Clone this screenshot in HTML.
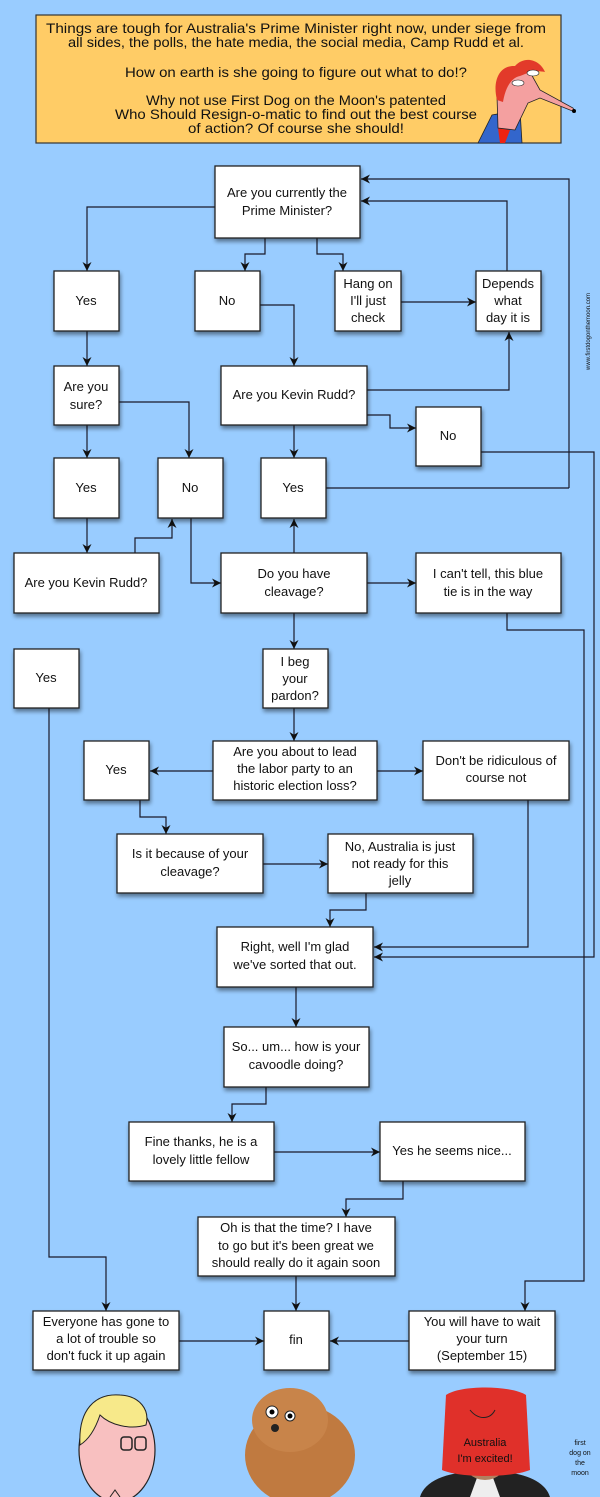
<!DOCTYPE html>
<html><head><meta charset="utf-8"><style>
html,body{margin:0;padding:0;background:#99ccff;}
svg{display:block;}
text{font-family:"Liberation Sans",sans-serif;fill:#111;}
</style></head><body>
<svg width="600" height="1497" viewBox="0 0 600 1497" xmlns="http://www.w3.org/2000/svg">
<defs>
<marker id="a" viewBox="0 0 10 10" refX="10" refY="5" markerWidth="9" markerHeight="9" orient="auto" markerUnits="userSpaceOnUse">
<path d="M0,0 L10,5 L0,10 L3,5 z" fill="#111"/></marker>
<filter id="sh" x="-10%" y="-10%" width="130%" height="140%"><feGaussianBlur in="SourceAlpha" stdDeviation="2"/><feOffset dx="1" dy="3"/><feComponentTransfer><feFuncA type="linear" slope="0.45"/></feComponentTransfer><feMerge><feMergeNode/><feMergeNode in="SourceGraphic"/></feMerge></filter>
</defs>
<rect width="600" height="1497" fill="#99ccff"/>
<!-- header -->
<rect x="36" y="15" width="525" height="128" fill="#ffcc66" stroke="#333" stroke-width="1.2"/>
<g font-size="14" text-anchor="middle">
<text x="296" y="33" textLength="500" lengthAdjust="spacingAndGlyphs">Things are tough for Australia's Prime Minister right now, under siege from</text>
<text x="296" y="47" textLength="456" lengthAdjust="spacingAndGlyphs">all sides, the polls, the hate media, the social media, Camp Rudd et al.</text>
<text x="296" y="77" textLength="342" lengthAdjust="spacingAndGlyphs">How on earth is she going to figure out what to do!?</text>
<text x="296" y="105" textLength="300" lengthAdjust="spacingAndGlyphs">Why not use First Dog on the Moon's patented</text>
<text x="296" y="119" textLength="362" lengthAdjust="spacingAndGlyphs">Who Should Resign-o-matic to find out the best course</text>
<text x="296" y="133" textLength="216" lengthAdjust="spacingAndGlyphs">of action? Of course she should!</text>
</g>
<!-- header character -->
<path d="M478,143 L492,115 L520,110 L522,143 z" fill="#3366cc" stroke="#222" stroke-width="0.8"/>
<path d="M500,143 L498,128 L510,130 L505,143 z" fill="#e21"/>
<path d="M498,128 L497,96 L505,75 L530,72 L540,90 L573,108 L575,112 L540,98 L528,103 L515,130 z" fill="#f4a0a0" stroke="#222" stroke-width="0.8"/>
<circle cx="574" cy="111" r="2" fill="#000"/>
<path d="M497,100 C492,80 500,65 515,66 C525,55 540,60 545,72 C535,70 530,72 520,76 C510,78 505,90 503,102 z" fill="#e23a2a"/>
<ellipse cx="518" cy="83" rx="6" ry="3" fill="#fff" stroke="#222" stroke-width="0.6"/>
<ellipse cx="533" cy="73" rx="6" ry="3" fill="#fff" stroke="#222" stroke-width="0.6"/>
<text x="590" y="370" font-size="6" transform="rotate(-90 590 370)">www.firstdogonthemoon.com</text>

<!-- connectors -->
<g stroke="#1a1a2a" stroke-width="1.2" fill="none" marker-end="url(#a)">
<polyline points="215,207 87,207 87,271"/>
<polyline points="265,238 265,254 245,254 245,271"/>
<polyline points="317,238 317,254 343,254 343,271"/>
<polyline points="401,302 476,302"/>
<polyline points="507,271 507,201 361,201"/>
<polyline points="569,488 569,179 361,179"/>
<polyline points="260,305 294,305 294,366"/>
<polyline points="367,390 509,390 509,332"/>
<polyline points="367,415 390,415 390,428 416,428"/>
<polyline points="294,425 294,458"/>
<polyline points="87,331 87,366"/>
<polyline points="119,402 189,402 189,458"/>
<polyline points="87,425 87,458"/>
<polyline points="326,488 569,488" marker-end="none"/>
<polyline points="481,452 594,452 594,957 374,957"/>
<polyline points="87,518 87,553"/>
<polyline points="135,553 135,538 172,538 172,519"/>
<polyline points="191,518 191,583 221,583"/>
<polyline points="294,553 294,519"/>
<polyline points="367,583 416,583"/>
<polyline points="294,613 294,649"/>
<polyline points="507,613 507,630 584,630 584,1281 525,1281 525,1311"/>
<polyline points="294,708 294,741"/>
<polyline points="213,771 150,771"/>
<polyline points="377,771 423,771"/>
<polyline points="140,800 140,817 166,817 166,834"/>
<polyline points="263,864 328,864"/>
<polyline points="528,800 528,947 374,947"/>
<polyline points="366,893 366,910 330,910 330,927"/>
<polyline points="49,708 49,1257 106,1257 106,1311"/>
<polyline points="296,987 296,1027"/>
<polyline points="266,1087 266,1104 232,1104 232,1122"/>
<polyline points="274,1152 380,1152"/>
<polyline points="403,1181 403,1199 346,1199 346,1217"/>
<polyline points="296,1276 296,1311"/>
<polyline points="179,1341 264,1341"/>
<polyline points="409,1341 330,1341"/>
</g>

<!-- boxes -->
<g fill="#fff" stroke="#222" stroke-width="1.3" filter="url(#sh)">
<rect x="215" y="166" width="145" height="72"/>
<rect x="54" y="271" width="65" height="60"/>
<rect x="195" y="271" width="65" height="60"/>
<rect x="335" y="271" width="66" height="60"/>
<rect x="476" y="271" width="65" height="60"/>
<rect x="54" y="366" width="65" height="59"/>
<rect x="221" y="366" width="146" height="59"/>
<rect x="416" y="407" width="65" height="59"/>
<rect x="54" y="458" width="65" height="60"/>
<rect x="158" y="458" width="65" height="60"/>
<rect x="261" y="458" width="65" height="60"/>
<rect x="14" y="553" width="145" height="60"/>
<rect x="221" y="553" width="146" height="60"/>
<rect x="416" y="553" width="145" height="60"/>
<rect x="14" y="649" width="65" height="59"/>
<rect x="263" y="649" width="65" height="59"/>
<rect x="213" y="741" width="164" height="59"/>
<rect x="84" y="741" width="65" height="59"/>
<rect x="423" y="741" width="146" height="59"/>
<rect x="117" y="834" width="146" height="59"/>
<rect x="328" y="834" width="145" height="59"/>
<rect x="217" y="927" width="156" height="60"/>
<rect x="224" y="1027" width="145" height="60"/>
<rect x="129" y="1122" width="145" height="59"/>
<rect x="380" y="1122" width="145" height="59"/>
<rect x="198" y="1217" width="197" height="59"/>
<rect x="33" y="1311" width="146" height="59"/>
<rect x="264" y="1311" width="65" height="59"/>
<rect x="409" y="1311" width="146" height="59"/>
</g>

<g font-size="13" text-anchor="middle">
<text x="287" y="197">Are you currently the</text><text x="287" y="215">Prime Minister?</text>
<text x="86" y="305">Yes</text>
<text x="227" y="305">No</text>
<text x="368" y="288">Hang on</text><text x="368" y="305">I'll just</text><text x="368" y="322">check</text>
<text x="508" y="288">Depends</text><text x="508" y="305">what</text><text x="508" y="322">day it is</text>
<text x="86" y="391">Are you</text><text x="86" y="409">sure?</text>
<text x="294" y="399">Are you Kevin Rudd?</text>
<text x="448" y="440">No</text>
<text x="86" y="492">Yes</text>
<text x="190" y="492">No</text>
<text x="293" y="492">Yes</text>
<text x="86" y="587">Are you Kevin Rudd?</text>
<text x="294" y="578">Do you have</text><text x="294" y="596">cleavage?</text>
<text x="488" y="578">I can't tell, this blue</text><text x="488" y="596">tie is in the way</text>
<text x="46" y="682">Yes</text>
<text x="295" y="666">I beg</text><text x="295" y="683">your</text><text x="295" y="700">pardon?</text>
<text x="295" y="756">Are you about to lead</text><text x="295" y="773">the labor party to an</text><text x="295" y="790">historic election loss?</text>
<text x="116" y="774">Yes</text>
<text x="496" y="765">Don't be ridiculous of</text><text x="496" y="782">course not</text>
<text x="190" y="858">Is it because of your</text><text x="190" y="876">cleavage?</text>
<text x="400" y="851">No, Australia is just</text><text x="400" y="868">not ready for this</text><text x="400" y="885">jelly</text>
<text x="295" y="951">Right, well I'm glad</text><text x="295" y="969">we've sorted that out.</text>
<text x="296" y="1051">So...  um... how is your</text><text x="296" y="1069">cavoodle doing?</text>
<text x="201" y="1146">Fine thanks, he is a</text><text x="201" y="1164">lovely little fellow</text>
<text x="452" y="1155">Yes he seems nice...</text>
<text x="296" y="1232">Oh is that the time? I have</text><text x="296" y="1250">to go but it's been great we</text><text x="296" y="1267">should really do it again soon</text>
<text x="106" y="1326">Everyone has gone to</text><text x="106" y="1343">a lot of trouble so</text><text x="106" y="1360">don't fuck it up again</text>
<text x="296" y="1344">fin</text>
<text x="482" y="1326">You will have to wait</text><text x="482" y="1343">your turn</text><text x="482" y="1360">(September 15)</text>
</g>

<!-- bottom illustrations -->
<ellipse cx="117" cy="1450" rx="38" ry="52" fill="#f8c0c0" stroke="#222" stroke-width="1.2"/>
<path d="M80,1445 C78,1410 95,1393 120,1395 C140,1396 150,1410 146,1425 C130,1430 110,1425 100,1415 C95,1430 88,1440 80,1445 z" fill="#f7e98a" stroke="#222" stroke-width="1"/>
<rect x="121" y="1437" width="11" height="13" rx="3" fill="none" stroke="#222" stroke-width="1.5"/>
<rect x="135" y="1437" width="11" height="13" rx="3" fill="none" stroke="#222" stroke-width="1.5"/>
<path d="M110,1497 L115,1490 L120,1497" fill="none" stroke="#222"/>
<ellipse cx="300" cy="1455" rx="55" ry="50" fill="#c07a40"/>
<ellipse cx="290" cy="1420" rx="38" ry="32" fill="#c8844a"/>
<ellipse cx="272" cy="1412" rx="6" ry="6" fill="#fff" stroke="#222"/><circle cx="272" cy="1412" r="2.5" fill="#000"/>
<ellipse cx="290" cy="1416" rx="5" ry="5" fill="#fff" stroke="#222"/><circle cx="290" cy="1416" r="2.5" fill="#000"/>
<circle cx="275" cy="1428" r="4" fill="#222"/>
<path d="M420,1497 C425,1480 450,1470 485,1472 C520,1470 545,1480 550,1497 z" fill="#222"/>
<path d="M470,1497 L478,1475 L492,1475 L500,1497 z" fill="#eee"/>
<ellipse cx="485" cy="1460" rx="22" ry="20" fill="#b08060"/>
<path d="M446,1395 C460,1385 510,1385 526,1395 L530,1470 C510,1478 460,1478 442,1470 z" fill="#e0302a"/>
<path d="M470,1410 C478,1420 490,1420 495,1410" fill="none" stroke="#222"/>
<text x="485" y="1446" font-size="11" text-anchor="middle">Australia</text>
<text x="485" y="1462" font-size="11" text-anchor="middle">I'm excited!</text>
<text x="580" y="1445" font-size="7" fill="#8899aa" text-anchor="middle">first</text>
<text x="580" y="1455" font-size="7" fill="#8899aa" text-anchor="middle">dog on</text>
<text x="580" y="1465" font-size="7" fill="#8899aa" text-anchor="middle">the</text>
<text x="580" y="1475" font-size="7" fill="#8899aa" text-anchor="middle">moon</text>
</svg>
</body></html>
